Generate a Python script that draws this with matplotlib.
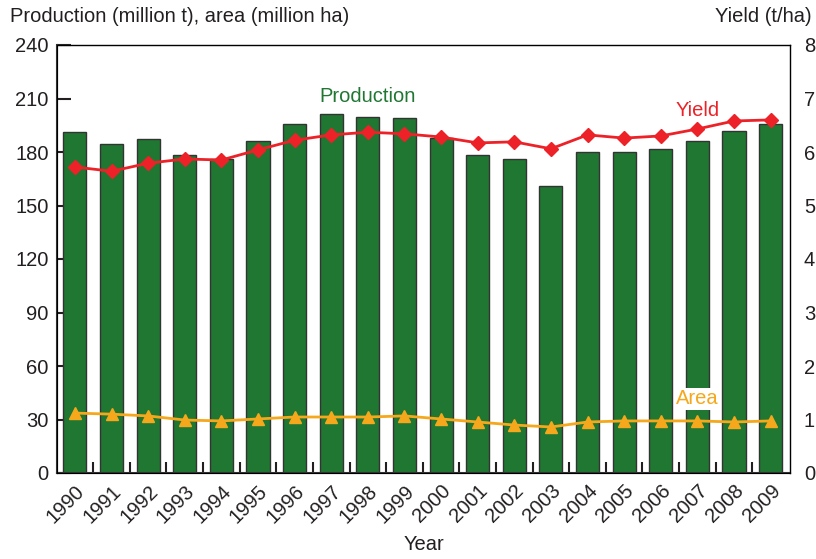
import numpy as np
import matplotlib
matplotlib.use('Agg')
import matplotlib.pyplot as plt

plt.rcParams['font.family'] = ['Liberation Sans', 'DejaVu Sans']

years = ['1990', '1991', '1992', '1993', '1994', '1995', '1996', '1997', '1998', '1999',
         '2000', '2001', '2002', '2003', '2004', '2005', '2006', '2007', '2008', '2009']
production = [191.2, 184.5, 187.3, 178.3, 176.1, 186.2, 195.7, 201.3, 199.7, 199.1,
              187.9, 178.3, 176.1, 161.0, 180.0, 180.0, 181.7, 186.2, 191.8, 195.7]
area = [33.6, 33.0, 32.0, 29.7, 29.2, 30.3, 31.4, 31.4, 31.4, 32.0,
        30.3, 28.6, 26.9, 25.8, 28.6, 29.2, 29.2, 29.2, 28.6, 29.2]
yld = [5.72, 5.64, 5.79, 5.87, 5.85, 6.04, 6.22, 6.32, 6.37, 6.34,
       6.28, 6.17, 6.19, 6.06, 6.32, 6.26, 6.30, 6.43, 6.58, 6.60]

green = '#1f7732'
red = '#ec2228'
orange = '#f5a81c'
txt = '#231f20'

x = np.arange(len(years))

fig = plt.figure(figsize=(8.16, 5.59), dpi=100)
ax = fig.add_axes([57/816, 1-473/559, (790-57)/816, (473-45)/559])

ax.bar(x, production, width=0.63, color=green, edgecolor='#333333', linewidth=1.0, zorder=2)
ax.plot(x, area, color=orange, lw=2.0, marker='^', ms=9, zorder=4)
ax.set_ylim(0, 240)
ax.set_xlim(-0.49, 19.53)
ax.set_yticks(np.arange(0, 241, 30))
ax.tick_params(axis='y', direction='in', length=10, width=1.5, labelsize=14.5, colors=txt, pad=6)
ax.set_xticks(x)
ax.set_xticklabels(years, rotation=45, ha='right', rotation_mode='anchor', fontsize=14.5, color=txt)
ax.tick_params(axis='x', length=0, pad=6)
ax.set_xticks(x[:-1] + 0.5, minor=True)
ax.tick_params(axis='x', which='minor', direction='in', length=8, width=1.5, colors=txt)
for s in ax.spines.values():
    s.set_color('#333333')
    s.set_linewidth(1.0)
ax.spines['left'].set_linewidth(1.5)
ax.spines['bottom'].set_linewidth(1.5)

ax2 = ax.twinx()
ax2.plot(x, yld, color=red, lw=2.0, marker='D', ms=7, zorder=5)
ax2.set_ylim(0, 8)
ax2.set_yticks(np.arange(0, 9, 1))
ax2.tick_params(axis='y', length=0, labelsize=14.5, colors=txt, pad=10)

ax.set_xlabel('Year', fontsize=14.5, color=txt, labelpad=6)
fig.text(10/816, 1-17/559, 'Production (million t), area (million ha)', fontsize=14.5, color=txt, va='center')
fig.text(812/816, 1-17/559, 'Yield (t/ha)', fontsize=14.5, color=txt, va='center', ha='right')
ax.text(8.0, 211, 'Production', color=green, fontsize=14.5, ha='center', va='center')
ax2.text(17.0, 6.77, 'Yield', color=red, fontsize=14.5, ha='center', va='center')
ax.text(17.0, 41.5, 'Area', color=orange, fontsize=14.5, ha='center', va='center', zorder=6,
        bbox=dict(facecolor='white', edgecolor='none', pad=1))

fig.savefig('out.png', dpi=100)
